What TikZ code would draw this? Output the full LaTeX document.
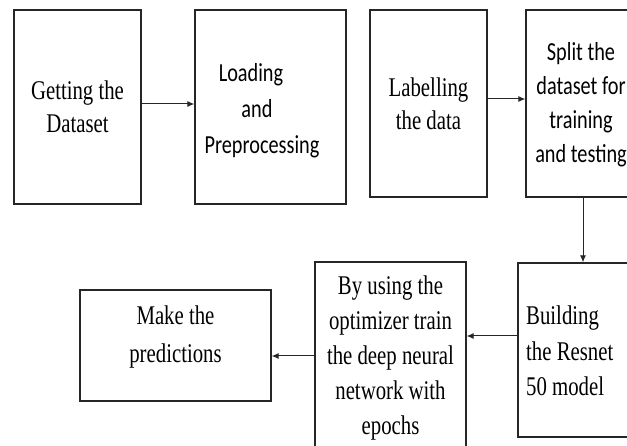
\documentclass[tikz,border=0pt]{standalone}
\usepackage{fontspec}
\setmainfont{Liberation Serif}[FakeStretch=0.77]
\newfontfamily\sansf{Carlito}[FakeStretch=0.78]
\usetikzlibrary{arrows.meta}
\begin{document}
\begin{tikzpicture}[x=1pt,y=-1pt,
  box/.style={draw=black!85, line width=1.3pt, inner sep=0pt, minimum width=#1},
  serif/.style={inner sep=0pt, anchor=base, align=center, font=\fontsize{27}{#1}\selectfont},
  sans/.style={inner sep=0pt, anchor=base, align=center, font=\sansf\fontsize{26}{#1}\selectfont},
  arr/.style={draw=black!85, line width=1pt, -{Latex[length=7pt,width=6pt]}}]
\clip (0,0) rectangle (627,446);
\fill[white] (0,0) rectangle (627,446);
% boxes
\node[box=127pt, minimum height=194pt] (b1) at (77.5,107) {};
\node[box=151pt, minimum height=194pt] (b2) at (270.5,107) {};
\node[box=117pt, minimum height=187pt] (b3) at (428.5,103.5) {};
\node[box=114pt, minimum height=187pt] (b4) at (583,103.5) {};
\node[box=132pt, minimum height=174pt] (b5) at (584,350) {};
\node[box=151pt, minimum height=198pt] (b6) at (390.5,361) {};
\node[box=191pt, minimum height=111pt] (b7) at (175.5,345.5) {};
% texts (base anchor = baseline of the last line)
\node[serif=33pt] (t1) at (77.5,133) {Getting the\\Dataset};
\node[sans=36pt] (t2) at (257,154) {Loading\hspace*{12pt}\\and\\\hspace*{10pt}Preprocessing};
\node[serif=33pt] (t3) at (428.5,130) {Labelling\\the data};
\node[sans=34pt] (t4) at (581,163) {Split the\\dataset for\\training\\and testing};
\node[serif=35.5pt, anchor=base west, align=left] (t5) at (526,396) {Building\\the Resnet\\50 model};
\node[serif=35pt] (t6) at (390.5,435) {By using the\\optimizer train\\the deep neural\\network with\\epochs};
\node[serif=38pt] (t7) at (175.5,363) {Make the\\predictions};
% connector helpers
\coordinate (y1) at (0,104);
\coordinate (y2) at (0,99);
\coordinate (xv) at (583,0);
\coordinate (y3) at (0,336);
\coordinate (y4) at (0,356);
% connectors
\draw[arr] (b1.east |- y1) -- (b2.west |- y1);
\draw[arr] (b3.east |- y2) -- (b4.west |- y2);
\draw[arr] (b4.south -| xv) -- (b5.north -| xv);
\draw[arr] (b5.west |- y3) -- (b6.east |- y3);
\draw[arr] (b6.west |- y4) -- (b7.east |- y4);
\end{tikzpicture}
\end{document}
